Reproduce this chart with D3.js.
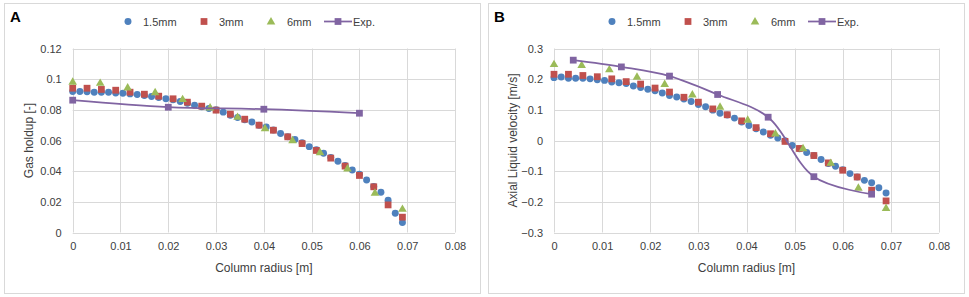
<!DOCTYPE html>
<html>
<head>
<meta charset="utf-8">
<script src="https://cdn.jsdelivr.net/npm/d3@7"></script>
<style>
  body { margin: 0; background: #fff; }
  text { font-family: "Liberation Sans", Arial, sans-serif; fill: #404040; }
</style>
</head>
<body>
<div id="chart"></div>
<script>
// radial positions [m]
var r15 = [0, 0.0015, 0.003, 0.0045, 0.006, 0.0075, 0.009, 0.0105, 0.012, 0.0135, 0.015, 0.0165,
  0.018, 0.0195, 0.021, 0.0225, 0.024, 0.0255, 0.027, 0.0285, 0.03, 0.0315, 0.033, 0.0345,
  0.036, 0.0375, 0.039, 0.0405, 0.042, 0.0435, 0.045, 0.0465, 0.048, 0.0495, 0.051, 0.0525,
  0.054, 0.0555, 0.057, 0.0585, 0.06, 0.0615, 0.063, 0.0645, 0.066, 0.0675, 0.069];
var r3 = [0, 0.003, 0.006, 0.009, 0.012, 0.015, 0.018, 0.021, 0.024, 0.027, 0.03, 0.033,
  0.036, 0.039, 0.042, 0.045, 0.048, 0.051, 0.054, 0.057, 0.06, 0.063, 0.066, 0.069];
var r6 = [0, 0.00575, 0.0115, 0.01725, 0.023, 0.02875, 0.0345, 0.04025, 0.046, 0.05175,
  0.0575, 0.06325, 0.069];
var rExpA = [0, 0.02, 0.04, 0.06];
var rExpB = [0.004, 0.014, 0.024, 0.034, 0.0445, 0.054, 0.066];

// panel A: gas holdup
var holdup15 = [0.092, 0.092, 0.0918, 0.0915, 0.0915, 0.0915, 0.091, 0.0908, 0.0904, 0.09,
  0.0893, 0.0887, 0.088, 0.0872, 0.0865, 0.0855, 0.0843, 0.083, 0.082, 0.0809, 0.08, 0.0785,
  0.0765, 0.075, 0.0735, 0.072, 0.07, 0.0688, 0.0668, 0.0645, 0.0625, 0.0607, 0.0585, 0.056,
  0.054, 0.0517, 0.049, 0.0465, 0.0437, 0.0408, 0.038, 0.0343, 0.03, 0.0262, 0.021, 0.0125, 0.0065];
var holdup3 = [0.0941, 0.0941, 0.0933, 0.0928, 0.0915, 0.0902, 0.0889, 0.0872, 0.085, 0.0824,
  0.0798, 0.0772, 0.0739, 0.07, 0.0667, 0.0624, 0.058, 0.0535, 0.0485, 0.0433, 0.0372, 0.0298,
  0.018, 0.010];
var holdup6 = [0.0983, 0.0976, 0.0946, 0.0915, 0.087, 0.0815, 0.0754, 0.068, 0.0602, 0.0524,
  0.0417, 0.0259, 0.0154];
var holdupExp = [0.0863, 0.0817, 0.0804, 0.0778];

// panel B: axial liquid velocity
var vel15 = [0.205, 0.207, 0.203, 0.203, 0.203, 0.201, 0.198, 0.196, 0.191, 0.188, 0.186,
  0.178, 0.173, 0.167, 0.162, 0.155, 0.147, 0.142, 0.135, 0.127, 0.117, 0.11, 0.099, 0.089,
  0.083, 0.073, 0.06, 0.049, 0.038, 0.028, 0.017, 0.008, -0.001, -0.016, -0.027, -0.039,
  -0.049, -0.062, -0.075, -0.084, -0.095, -0.108, -0.119, -0.13, -0.138, -0.154, -0.171];
var vel3 = [0.216, 0.216, 0.212, 0.208, 0.201, 0.192, 0.184, 0.171, 0.158, 0.141, 0.125,
  0.103, 0.084, 0.064, 0.042, 0.022, -0.003, -0.026, -0.049, -0.073, -0.097, -0.119, -0.162, -0.197];
var vel6 = [0.249, 0.246, 0.232, 0.208, 0.184, 0.15, 0.11, 0.068, 0.023, -0.025, -0.073,
  -0.154, -0.22];
var velExp = [0.262, 0.24, 0.21, 0.15, 0.076, -0.118, -0.175];

var xTicks = [0, 0.01, 0.02, 0.03, 0.04, 0.05, 0.06, 0.07, 0.08];
var yTicksA = [0, 0.02, 0.04, 0.06, 0.08, 0.1, 0.12];
var yTicksB = [-0.3, -0.2, -0.1, 0, 0.1, 0.2, 0.3];
var seriesNames = ["1.5mm", "3mm", "6mm", "Exp."];

var colors = { blue: "#4f81bd", red: "#c0504d", green: "#9bbb59", purple: "#8064a2" };

var svg = d3.select("#chart").append("svg")
  .attr("width", 969).attr("height", 297);

function zip(xs, ys) {
  return xs.map(function(x, i) { return { x: x, y: ys[i] }; });
}

function drawPanel(opt) {
  var g = svg.append("g").attr("transform", "translate(" + opt.left + ",0)");
  var pl = opt.plotLeft, pr = opt.plotRight, pt = 48.5, pb = 232.5;

  g.append("rect")
    .attr("x", 0.5).attr("y", 3.5).attr("width", 476).attr("height", 290)
    .attr("fill", "none").attr("stroke", "#d9d9d9");

  g.append("text").attr("x", 6).attr("y", 22)
    .style("font-size", "15px").style("font-weight", "bold").style("fill", "#000")
    .text(opt.letter);

  var x = d3.scaleLinear().domain([0, 0.08]).range([pl, pr]);
  var y = d3.scaleLinear().domain(opt.yDomain).range([pb, pt]);

  // gridlines
  g.append("g").selectAll("line").data(opt.yTicks).join("line")
    .attr("x1", pl).attr("x2", pr)
    .attr("y1", function(d) { return Math.round(y(d)) + 0.5; })
    .attr("y2", function(d) { return Math.round(y(d)) + 0.5; })
    .attr("stroke", "#d9d9d9");
  g.append("g").selectAll("line").data(xTicks).join("line")
    .attr("y1", pt).attr("y2", pb)
    .attr("x1", function(d) { return Math.round(x(d)) + 0.5; })
    .attr("x2", function(d) { return Math.round(x(d)) + 0.5; })
    .attr("stroke", "#d9d9d9");

  // axes labels
  var yAxis = d3.axisLeft(y).tickValues(opt.yTicks).tickSize(0).tickPadding(11)
    .tickFormat(function(d) { return d3.format("")(+d.toFixed(2)); });
  var ya = g.append("g").attr("transform", "translate(" + pl + ",0)").call(yAxis);
  ya.select(".domain").remove();
  ya.selectAll("text").style("font-size", "11px").style("fill", "#404040");

  var xAxis = d3.axisBottom(x).tickValues(xTicks).tickSize(0).tickPadding(10)
    .tickFormat(function(d) { return d3.format("")(+d.toFixed(2)); });
  var xa = g.append("g").attr("transform", "translate(0," + pb + ")").call(xAxis);
  xa.select(".domain").remove();
  xa.selectAll("text").style("font-size", "11px").style("fill", "#404040");

  g.append("text")
    .attr("x", (pl + pr) / 2).attr("y", 272)
    .attr("text-anchor", "middle").style("font-size", "12px")
    .text("Column radius [m]");
  g.append("text")
    .attr("transform", "translate(29," + (pt + pb) / 2 + ") rotate(-90)")
    .attr("text-anchor", "middle").style("font-size", "12px")
    .text(opt.yTitle);

  var sym = {
    circle: d3.symbol().type(d3.symbolCircle).size(38),
    square: d3.symbol().type(d3.symbolSquare).size(46),
    triangle: d3.symbol().type(d3.symbolTriangle).size(32)
  };

  function markers(data, path, color, dy) {
    g.append("g").selectAll("path").data(data).join("path")
      .attr("transform", function(d) { return "translate(" + x(d.x) + "," + (y(d.y) + (dy || 0)) + ")"; })
      .attr("d", path).attr("fill", color);
  }

  markers(zip(r15, opt.s15), sym.circle(), colors.blue);
  markers(zip(r3, opt.s3), sym.square(), colors.red);
  markers(zip(r6, opt.s6), sym.triangle(), colors.green, 0.5);

  var expData = zip(opt.rExp, opt.sExp);
  var line = d3.line().x(function(d) { return x(d.x); }).y(function(d) { return y(d.y); })
    .curve(d3.curveCatmullRom.alpha(0.5));
  g.append("path").datum(expData).attr("d", line)
    .attr("fill", "none").attr("stroke", colors.purple).attr("stroke-width", 1.75);
  markers(expData, sym.square(), colors.purple);

  // legend
  var ly = 21.5;
  var lg = g.append("g");
  lg.append("path").attr("transform", "translate(124," + ly + ")").attr("d", sym.circle()).attr("fill", colors.blue);
  lg.append("path").attr("transform", "translate(200," + ly + ")").attr("d", sym.square()).attr("fill", colors.red);
  lg.append("path").attr("transform", "translate(267," + (ly + 0.5) + ")").attr("d", sym.triangle()).attr("fill", colors.green);
  lg.append("line").attr("x1", 320).attr("x2", 348).attr("y1", ly).attr("y2", ly)
    .attr("stroke", colors.purple).attr("stroke-width", 1.75);
  lg.append("path").attr("transform", "translate(334," + ly + ")").attr("d", sym.square()).attr("fill", colors.purple);
  var lx = [139, 215, 283, 349];
  lg.selectAll("text.leg").data(seriesNames).join("text")
    .attr("class", "leg")
    .attr("x", function(d, i) { return lx[i]; })
    .attr("y", ly + 4)
    .style("font-size", "11px")
    .text(function(d) { return d; });
}

drawPanel({
  left: 4, letter: "A", plotLeft: 68.7, plotRight: 451,
  yDomain: [0, 0.12], yTicks: yTicksA, yTitle: "Gas holdup [-]",
  s15: holdup15, s3: holdup3, s6: holdup6, rExp: rExpA, sExp: holdupExp
});
drawPanel({
  left: 488, letter: "B", plotLeft: 66, plotRight: 451,
  yDomain: [-0.3, 0.3], yTicks: yTicksB, yTitle: "Axial Liquid velocity [m/s]",
  s15: vel15, s3: vel3, s6: vel6, rExp: rExpB, sExp: velExp
});
</script>
</body>
</html>
